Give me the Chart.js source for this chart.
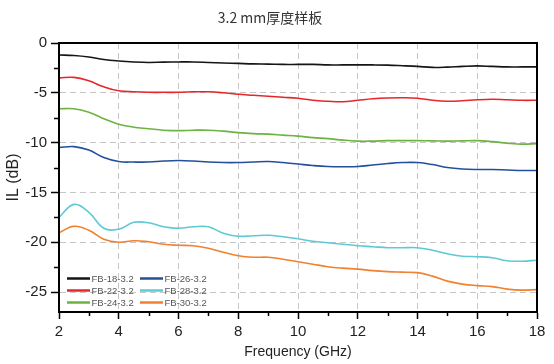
<!DOCTYPE html>
<html>
<head>
<meta charset="utf-8">
<script src="https://cdn.jsdelivr.net/npm/chart.js@4"></script>
<style>
  html, body { margin: 0; padding: 0; background: #fff; }
  #wrap { width: 554px; height: 364px; }
</style>
</head>
<body>
<div id="wrap"><canvas id="il"></canvas></div>
<script>
const freq = [2, 2.5, 3, 3.5, 4, 4.5, 5, 5.5, 6, 6.5, 7, 7.5, 8, 8.5, 9, 9.5, 10,
  10.5, 11, 11.5, 12, 12.5, 13, 13.5, 14, 14.5, 15, 15.5, 16, 16.5, 17, 17.5, 18]

const fb18 = [-1.2, -1.25, -1.4, -1.65, -1.8, -1.9, -1.95, -1.92, -1.9, -1.9, -1.95, -2.0, -2.05,
  -2.1, -2.12, -2.15, -2.15, -2.15, -2.2, -2.2, -2.2, -2.2, -2.22, -2.28, -2.35, -2.45, -2.42,
  -2.35, -2.3, -2.35, -2.4, -2.4, -2.4]
const fb22 = [-3.5, -3.45, -3.8, -4.4, -4.8, -4.9, -4.95, -4.95, -4.95, -4.9, -4.9, -5.0, -5.15,
  -5.25, -5.35, -5.45, -5.55, -5.75, -5.85, -5.9, -5.75, -5.6, -5.52, -5.5, -5.55, -5.75, -5.85,
  -5.8, -5.7, -5.65, -5.7, -5.75, -5.75]
const fb24 = [-6.6, -6.6, -6.95, -7.6, -8.15, -8.45, -8.6, -8.75, -8.8, -8.75, -8.75, -8.85, -9.0,
  -9.1, -9.15, -9.25, -9.35, -9.5, -9.6, -9.75, -9.85, -9.85, -9.8, -9.8, -9.8, -9.82, -9.85,
  -9.82, -9.8, -9.9, -10.05, -10.15, -10.1]
const fb26 = [-10.5, -10.4, -10.75, -11.5, -11.9, -11.95, -11.95, -11.85, -11.8, -11.85, -11.95, -12.0, -12.0,
  -11.95, -11.9, -12.0, -12.15, -12.3, -12.4, -12.42, -12.4, -12.25, -12.1, -12.0, -12.0, -12.2, -12.5,
  -12.65, -12.7, -12.7, -12.75, -12.8, -12.8]
const fb28 = [-17.5, -16.2, -17.0, -18.6, -18.7, -18.0, -18.05, -18.45, -18.6, -18.45, -18.45, -19.1, -19.4,
  -19.35, -19.3, -19.45, -19.65, -19.9, -20.05, -20.2, -20.35, -20.45, -20.55, -20.55, -20.55, -20.8, -21.15,
  -21.4, -21.45, -21.55, -21.85, -21.9, -21.8]
const fb30 = [-19.05, -18.4, -18.8, -19.7, -20.0, -19.85, -19.95, -20.2, -20.3, -20.35, -20.6, -21.0, -21.35,
  -21.5, -21.5, -21.7, -21.95, -22.2, -22.45, -22.6, -22.7, -22.85, -22.95, -23.0, -23.05, -23.4, -23.9,
  -24.2, -24.35, -24.45, -24.7, -24.8, -24.75]

const seriesNames = ["FB-18-3.2", "FB-22-3.2", "FB-24-3.2", "FB-26-3.2", "FB-28-3.2", "FB-30-3.2"]
const seriesValues = [fb18, fb22, fb24, fb26, fb28, fb30]
const seriesColors = ["#151515", "#e5262b", "#6cb33f", "#23509c", "#5ec9d5", "#f0812f"]

const xTicks = [2, 4, 6, 8, 10, 12, 14, 16, 18]
const xMinor = [3, 5, 7, 9, 11, 13, 15, 17]
const yTicks = [0, -5, -10, -15, -20, -25]
const yMinor = [-2.5, -7.5, -12.5, -17.5, -22.5]

const titleText = "3.2 mm厚度样板"

const tickFont = { family: "'Liberation Sans', Arial, sans-serif", size: 15 }

// frame, minor ticks, title and the 2-column legend
const decor = {
  id: "decor",
  afterDraw(chart) {
    const { ctx, chartArea: a, scales: { x, y } } = chart
    ctx.save()
    ctx.strokeStyle = "#000"
    ctx.lineWidth = 2
    ctx.strokeRect(a.left, a.top, a.right - a.left, a.bottom - a.top)

    ctx.lineWidth = 1.5
    ctx.beginPath()
    xMinor.forEach(v => {
      const px = Math.round(x.getPixelForValue(v)) + 0.5
      ctx.moveTo(px, a.bottom)
      ctx.lineTo(px, a.bottom + 4)
    })
    yMinor.forEach(v => {
      const py = Math.round(y.getPixelForValue(v)) + 0.5
      ctx.moveTo(a.left, py)
      ctx.lineTo(a.left - 5, py)
    })
    ctx.stroke()

    ctx.fillStyle = "#333"
    ctx.font = "14px 'Noto Sans CJK SC', sans-serif"
    ctx.textAlign = "center"
    ctx.textBaseline = "middle"
    ctx.fillText(titleText, 270, 18)

    ctx.font = "9.5px 'Liberation Sans', Arial, sans-serif"
    ctx.textAlign = "left"
    chart.data.datasets.forEach((ds, i) => {
      const col = Math.floor(i / 3)
      const row = i % 3
      const lx = a.left + 8 + col * 73
      const ly = 278.5 + row * 12
      ctx.strokeStyle = ds.borderColor
      ctx.lineWidth = 2.5
      ctx.beginPath()
      ctx.moveTo(lx, ly)
      ctx.lineTo(lx + 23, ly)
      ctx.stroke()
      ctx.fillStyle = "#555"
      ctx.fillText(ds.label, lx + 24.5, ly + 0.5)
    })
    ctx.restore()
  }
}

const ctx = document.getElementById("il")

new Chart(ctx, {
  type: "line",
  data: {
    datasets: seriesNames.map((name, i) => ({
      label: name,
      data: freq.map((f, j) => ({ x: f, y: seriesValues[i][j] })),
      borderColor: seriesColors[i],
      borderWidth: 1.6,
      pointRadius: 0,
      tension: 0.4,
      fill: false,
    })),
  },
  options: {
    responsive: true,
    maintainAspectRatio: false,
    animation: false,
    layout: {
      padding: { top: 43, right: 17, left: 0, bottom: 0 }
    },
    plugins: {
      legend: { display: false },
      title: { display: false },
      tooltip: { enabled: false },
    },
    scales: {
      x: {
        type: "linear",
        min: 2,
        max: 18,
        afterFit: s => { s.height = 52 },
        afterBuildTicks: s => { s.ticks = xTicks.map(v => ({ value: v })) },
        grid: {
          color: c => (c.tick && (c.tick.value === 2 || c.tick.value === 18)) ? "rgba(0,0,0,0)" : "#c6c6c6",
          lineWidth: 1,
          tickColor: "#000",
          tickWidth: 1.5,
          tickLength: 7,
        },
        border: { color: "#000", width: 2, dash: [6, 4] },
        ticks: { color: "#222", font: tickFont, padding: 4, maxRotation: 0 },
        title: {
          display: true,
          text: "Frequency (GHz)",
          color: "#222",
          font: { family: "'Liberation Sans', Arial, sans-serif", size: 14 },
          padding: { top: 0, bottom: 3 },
        },
      },
      y: {
        min: -27,
        max: 0,
        afterFit: s => { s.width = 59 },
        afterBuildTicks: s => { s.ticks = yTicks.map(v => ({ value: v })) },
        grid: {
          color: c => (c.tick && c.tick.value === 0) ? "rgba(0,0,0,0)" : "#c6c6c6",
          lineWidth: 1,
          tickColor: "#000",
          tickWidth: 1.5,
          tickLength: 8,
        },
        border: { color: "#000", width: 2, dash: [6, 4] },
        ticks: { color: "#222", font: tickFont, padding: 4 },
        title: {
          display: true,
          text: "IL (dB)",
          color: "#222",
          font: { family: "'Liberation Sans', Arial, sans-serif", size: 16 },
          padding: { top: 4, bottom: 0 },
        },
      },
    },
  },
  plugins: [decor],
})
</script>
</body>
</html>
